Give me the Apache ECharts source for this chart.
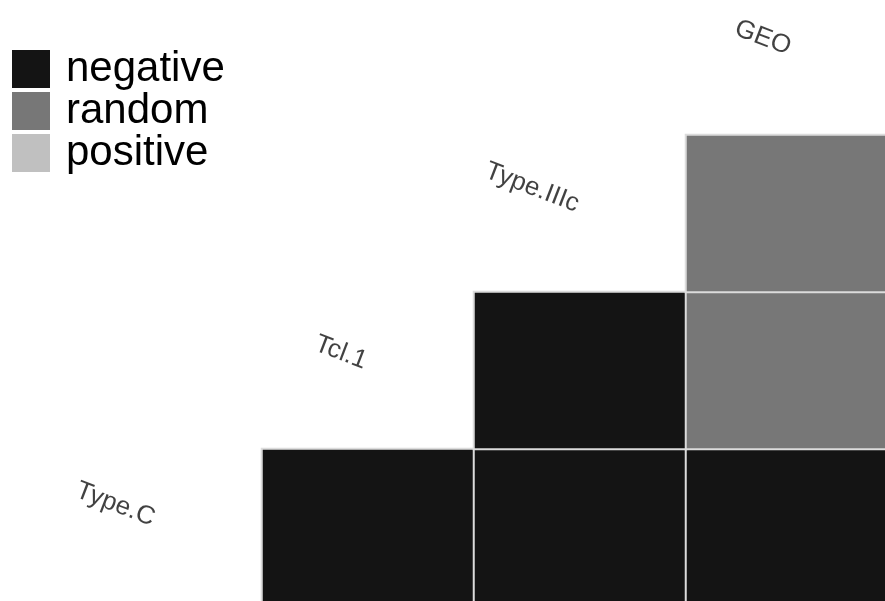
<!DOCTYPE html>
<html>
<head>
<meta charset="utf-8">
<title>Interaction types</title>
<script src="https://cdn.jsdelivr.net/npm/echarts@6/dist/echarts.min.js"></script>
<style>
  html, body { margin: 0; padding: 0; background: #ffffff; }
  #chart { width: 885px; height: 601px; }
</style>
</head>
<body>
<div id="chart"></div>
<script>
// Variables shown along the diagonal
const categories = ['Type.C', 'Tcl.1', 'Type.IIIc', 'GEO'];

// Relationship classes and their shades
const classLabels = ['negative', 'random', 'positive'];
const classColors = ['#141414', '#777777', '#c0c0c0'];

// Upper-triangle pairs: [column, row, class index]
const pairCells = [
  [1, 0, 0],
  [2, 0, 0],
  [3, 0, 0],
  [2, 1, 0],
  [3, 1, 1],
  [3, 2, 1]
];

// Diagonal positions that carry the variable names
const diagonal = categories.map((c, i) => [i, i]);

const chart = echarts.init(document.getElementById('chart'), null, { renderer: 'canvas' });

chart.setOption({
  backgroundColor: '#ffffff',
  animation: false,
  grid: { left: 50, top: -22, width: 848, height: 628, outerBoundsMode: 'none', containLabel: false },
  xAxis: {
    type: 'category',
    data: categories,
    show: false
  },
  yAxis: {
    type: 'category',
    data: categories,
    show: false
  },
  visualMap: {
    type: 'piecewise',
    seriesIndex: 0,
    dimension: 2,
    orient: 'vertical',
    inverse: true,
    left: -3,
    top: 33,
    itemWidth: 38,
    itemHeight: 38,
    itemGap: 0,
    textGap: 16,
    itemSymbol: 'rect',
    selectedMode: false,
    hoverLink: false,
    pieces: classLabels.map((label, i) => ({ value: i, label: label, color: classColors[i] })),
    textStyle: {
      fontFamily: 'Liberation Sans, Arial, sans-serif',
      fontSize: 42,
      color: '#000000'
    }
  },
  series: [
    {
      type: 'heatmap',
      data: pairCells,
      itemStyle: { borderColor: '#dcdcdc', borderWidth: 2 },
      emphasis: { disabled: true }
    },
    {
      type: 'scatter',
      data: diagonal,
      symbolSize: 0,
      silent: true,
      label: {
        show: true,
        position: 'inside',
        formatter: p => categories[p.dataIndex],
        align: 'right',
        verticalAlign: 'bottom',
        rotate: -21,
        offset: [-5, 6],
        fontFamily: 'Liberation Sans, Arial, sans-serif',
        fontSize: 26,
        color: '#111111'
      }
    }
  ]
});
</script>
</body>
</html>
